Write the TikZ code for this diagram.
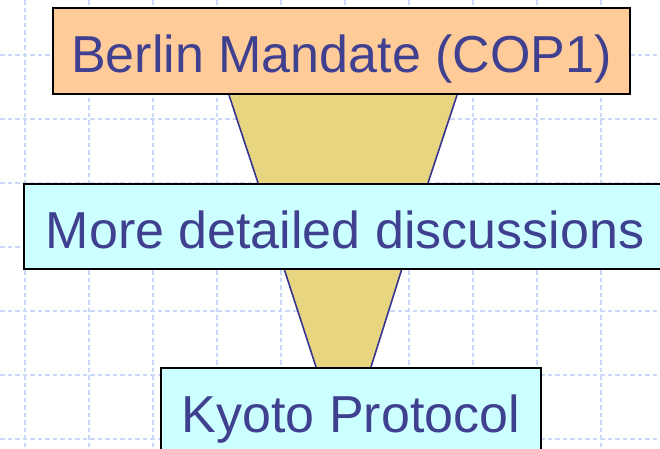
\documentclass[tikz,border=0pt]{standalone}
\usepackage{fontspec}
\setmainfont{Liberation Sans}
\usetikzlibrary{calc,backgrounds}
\definecolor{boxorange}{HTML}{FFCC99}
\definecolor{boxcyan}{HTML}{CCFFFF}
\definecolor{funnel}{HTML}{E8D580}
\definecolor{textblue}{HTML}{404090}
\definecolor{edgeblue}{HTML}{363690}
\definecolor{gridblue}{HTML}{CCD8F8}
\begin{document}
\begin{tikzpicture}[x=1pt, y=-1pt,
  stage/.style={draw=black, line width=2.2pt, inner sep=0pt, text=textblue,
    font=\fontsize{52}{60}\selectfont, text height=44pt, text depth=0pt},
  funnelside/.style={draw=edgeblue, line width=1.6pt},
  gridline/.style={gridblue, line width=2.2pt, dash pattern=on 4.5pt off 3pt}]
  \useasboundingbox (0,0) rectangle (660,448);
  \node[stage, fill=boxorange, minimum width=577pt, minimum height=86pt, text height=42pt] (berlin) at (341.5,51) {Berlin Mandate (COP1)};
  \node[stage, fill=boxcyan, minimum width=642pt, minimum height=85pt] (talks) at (345,226.5) {More detailed discussions};
  \node[stage, fill=boxcyan, minimum width=380pt, minimum height=85pt] (kyoto) at (351,410.5) {Kyoto Protocol};
  \coordinate (axis) at (343,0);
  \begin{scope}[on background layer]
    \fill[white] (0,0) rectangle (660,448);
    \foreach \gx in {25,89,...,601} \draw[gridline] (\gx,0) -- (\gx,448);
    \foreach \gy in {55,119,...,439} \draw[gridline] (0,\gy) -- (660,\gy);
    \coordinate (t1a) at ($(berlin.south -| axis)+(-114,0)$);
    \coordinate (t1b) at ($(berlin.south -| axis)+(114,0)$);
    \coordinate (t1c) at ($(talks.north -| axis)+(85,0)$);
    \coordinate (t1d) at ($(talks.north -| axis)+(-85,0)$);
    \fill[funnel] (t1a) -- (t1b) -- (t1c) -- (t1d) -- cycle;
    \draw[funnelside] (t1a) -- (t1d) (t1b) -- (t1c);
    \coordinate (t2a) at ($(talks.south -| axis)+(-58.5,0)$);
    \coordinate (t2b) at ($(talks.south -| axis)+(58.5,0)$);
    \coordinate (t2c) at ($(kyoto.north -| axis)+(28,0)$);
    \coordinate (t2d) at ($(kyoto.north -| axis)+(-27,0)$);
    \fill[funnel] (t2a) -- (t2b) -- (t2c) -- (t2d) -- cycle;
    \draw[funnelside] (t2a) -- (t2d) (t2b) -- (t2c);
  \end{scope}
\end{tikzpicture}
\end{document}
